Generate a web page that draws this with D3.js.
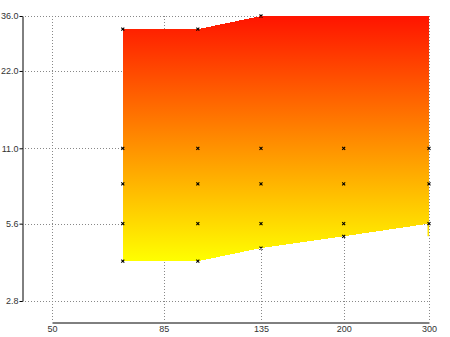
<!DOCTYPE html>
<html>
<head>
<meta charset="utf-8">
<script src="https://cdn.jsdelivr.net/npm/d3@7"></script>
<style>
  html, body { margin: 0; padding: 0; background: #fff; }
  svg { display: block; }
  .axis text { font-family: "Liberation Sans", Arial, sans-serif; font-size: 9px; fill: #333; }
  .grid line { stroke: #888; stroke-dasharray: 1,2; shape-rendering: crispEdges; }
</style>
</head>
<body>
<svg id="chart" width="450" height="337"></svg>
<script>
// Focal lengths (mm) and the aperture range available at each
const focal = [70, 100, 135, 200, 300];
const apertureMax = [32, 32, 36, 36, 36];
const apertureMin = [4.0, 4.0, 4.5, 5.0, 5.6];

// Marked aperture stops per focal length
const stopFocal = [70, 70, 70, 70, 70, 100, 100, 100, 100, 100, 135, 135, 135, 135, 135, 200, 200, 200, 200, 300, 300, 300];
const stopValue = [32, 11, 8, 5.6, 4.0, 32, 11, 8, 5.6, 4.0, 36, 11, 8, 5.6, 4.5, 11, 8, 5.6, 5.0, 11, 8, 5.6];

// Axis ticks
const xTicks = [50, 85, 135, 200, 300];
const yTicks = [2.8, 5.6, 11.0, 22.0, 36.0];

const svg = d3.select("#chart");

const x = d3.scaleLog().domain([50, 300]).range([52, 429]);
const y = d3.scaleLog().domain([2.8, 36]).range([301, 16]);

// Gradient: red at the top, yellow at the bottom of the filled region
const defs = svg.append("defs");
const grad = defs.append("linearGradient")
  .attr("id", "fillGrad")
  .attr("gradientUnits", "userSpaceOnUse")
  .attr("x1", 0).attr("x2", 0)
  .attr("y1", y(36)).attr("y2", y(4.0));
grad.append("stop").attr("offset", 0).attr("stop-color", "#ff1400");
grad.append("stop").attr("offset", 1).attr("stop-color", "#ffff00");

// Grid lines
const grid = svg.append("g").attr("class", "grid");
grid.selectAll("line.h").data(yTicks).join("line")
  .attr("class", "h")
  .attr("x1", 22).attr("x2", 430)
  .attr("y1", d => Math.round(y(d)) + 0.5).attr("y2", d => Math.round(y(d)) + 0.5);
grid.selectAll("line.v").data(xTicks).join("line")
  .attr("class", "v")
  .attr("x1", d => Math.round(x(d)) + 0.5).attr("x2", d => Math.round(x(d)) + 0.5)
  .attr("y1", 16).attr("y2", 322);

// Filled aperture range
const area = d3.area()
  .x((d, i) => x(focal[i]))
  .y0((d, i) => y(apertureMin[i]))
  .y1((d, i) => y(apertureMax[i]));
svg.append("path")
  .datum(focal)
  .attr("d", area)
  .attr("fill", "url(#fillGrad)")
  .attr("shape-rendering", "crispEdges");

// Thin sliver at the long end down to the previous minimum
const last = focal.length - 1;
svg.append("line")
  .attr("x1", x(focal[last]) - 0.75).attr("x2", x(focal[last]) - 0.75)
  .attr("y1", y(apertureMin[last])).attr("y2", y(apertureMin[last - 1]))
  .attr("stroke", "url(#fillGrad)")
  .attr("stroke-width", 1.5);

// Axes
const yAxis = d3.axisLeft(y)
  .tickValues(yTicks)
  .tickFormat(d3.format(".1f"))
  .tickSize(3).tickSizeOuter(0).tickPadding(1);
const gy = svg.append("g").attr("class", "axis").attr("transform", "translate(22.5,0)").call(yAxis);
gy.selectAll("path, line").attr("stroke", "#000");

const xAxis = d3.axisBottom(x)
  .tickValues(xTicks)
  .tickFormat(d3.format("d"))
  .tickSize(0).tickSizeOuter(0).tickPadding(3);
const gx = svg.append("g").attr("class", "axis").attr("transform", "translate(0,322.5)").call(xAxis);
gx.selectAll("path, line").attr("stroke", "#000");

// Stop markers
svg.append("g").selectAll("path").data(stopValue).join("path")
  .attr("transform", (d, i) => `translate(${x(stopFocal[i])},${y(d)})`)
  .attr("d", "M-1.5,-1.5L1.5,1.5M-1.5,1.5L1.5,-1.5")
  .attr("stroke", "#000")
  .attr("stroke-width", 1.1)
  .attr("fill", "none");
</script>
</body>
</html>
